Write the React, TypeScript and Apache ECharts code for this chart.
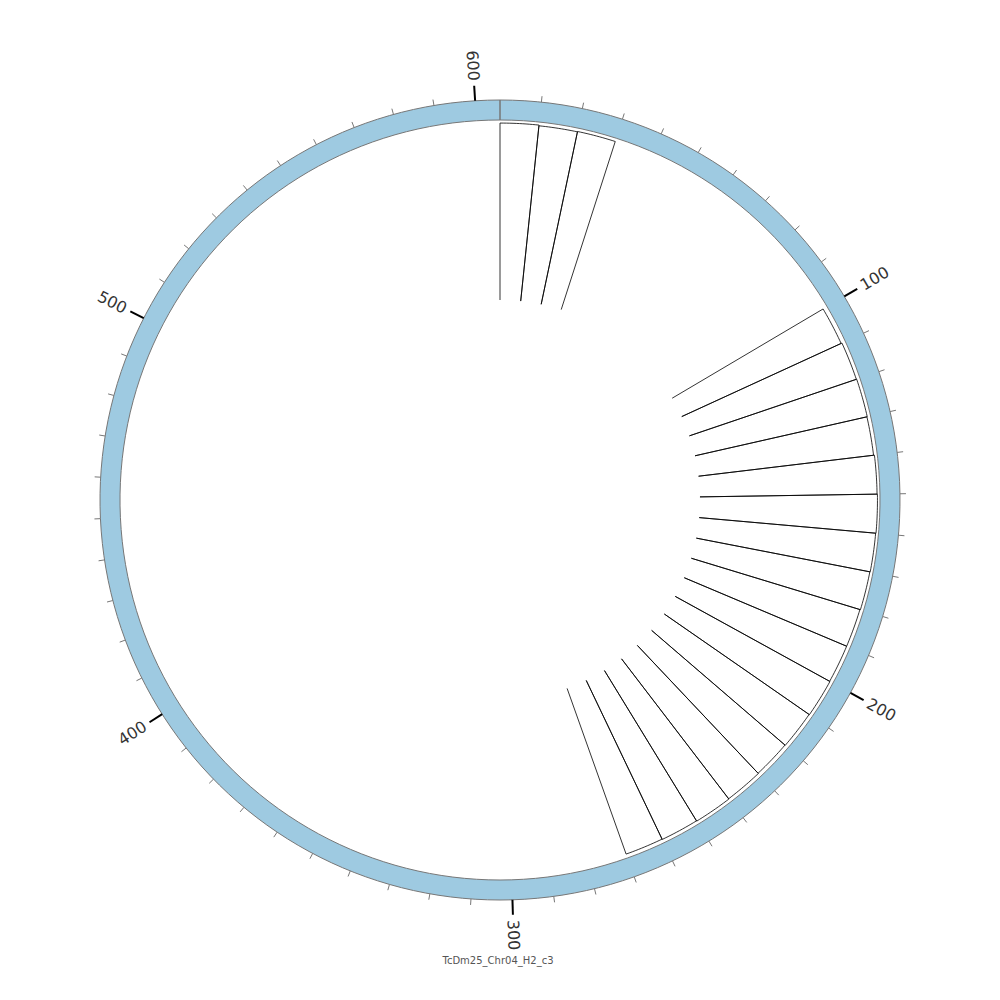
import React, { useEffect, useRef } from 'react';
import * as echarts from 'echarts';

// ---- data ----
const chrName = 'TcDm25_Chr04_H2_c3';
const chrLength = 606;
const minorTickStep = 10;
const majorTicks = [100, 200, 300, 400, 500, 600];
const majorTickLabels = ['100', '200', '300', '400', '500', '600'];
const binSize = 10;
const binStarts = [0, 10, 20, 100, 110, 120, 130, 140, 150, 160, 170, 180, 190, 200, 210, 220, 230, 240, 250, 260];
const binValues = [0.994, 0.99, 0.992, 0.985, 0.99, 0.992, 0.99, 0.995, 0.997, 0.995, 0.993, 0.99, 0.99, 0.992, 0.99, 0.988, 0.99, 0.992, 0.99, 0.988];

const minorTicks: number[] = [];
for (let t = minorTickStep; t <= chrLength; t += minorTickStep) {
  if (majorTicks.indexOf(t) < 0) minorTicks.push(t);
}

export default function App() {
  const ref = useRef<HTMLDivElement>(null);
  useEffect(() => {
    if (!ref.current) return;
    const chart = echarts.init(ref.current, undefined, { renderer: 'svg' });

    const hiddenAngle = (idx: number) => ({
      polarIndex: idx,
      type: 'value',
      min: 0,
      max: chrLength,
      startAngle: 90,
      clockwise: true,
      axisLine: { show: false },
      axisTick: { show: false },
      axisLabel: { show: false },
      splitLine: { show: false },
    });
    const hiddenRadius = (idx: number) => ({
      polarIndex: idx,
      type: 'value',
      min: 0,
      max: 1,
      axisLine: { show: false },
      axisTick: { show: false },
      axisLabel: { show: false },
      splitLine: { show: false },
    });

    const histData = binStarts.map((s, i) => [binValues[i], s, s + binSize]);

    const option: any = {
      animation: false,
      polar: [
        { center: ['50%', '50%'], radius: [200, 378] },
        { center: ['50%', '50%'], radius: [380, 400] },
      ],
      angleAxis: [hiddenAngle(0), hiddenAngle(1)],
      radiusAxis: [hiddenRadius(0), hiddenRadius(1)],
      graphic: [
        {
          type: 'text',
          x: 498,
          y: 960,
          style: {
            text: chrName,
            align: 'center',
            verticalAlign: 'middle',
            fontSize: 10,
            fontFamily: 'DejaVu Sans',
            fill: '#555',
          },
        },
      ],
      series: [
        {
          type: 'custom',
          coordinateSystem: 'polar',
          polarIndex: 0,
          clip: false,
          encode: { radius: 0, angle: 1 },
          data: histData,
          renderItem: (params: any, api: any) => {
            const v = api.value(0);
            const s = api.value(1);
            const e = api.value(2);
            const pts: number[][] = [];
            pts.push(api.coord([0, s]));
            const n = 12;
            for (let k = 0; k <= n; k++) {
              pts.push(api.coord([v, s + ((e - s) * k) / n]));
            }
            pts.push(api.coord([0, e]));
            return {
              type: 'polyline',
              shape: { points: pts },
              style: { stroke: '#000', lineWidth: 0.8, fill: null },
            };
          },
        },
        {
          type: 'custom',
          coordinateSystem: 'polar',
          polarIndex: 1,
          clip: false,
          encode: { radius: 0, angle: 1 },
          data: [[1, chrLength]],
          renderItem: (params: any, api: any) => {
            const L = api.value(1);
            const pts: number[][] = [];
            const step = 3;
            for (let a = 0; a < L; a += step) pts.push(api.coord([1, a]));
            pts.push(api.coord([1, L]));
            pts.push(api.coord([0, L]));
            for (let a = Math.floor(L / step) * step; a > 0; a -= step) pts.push(api.coord([0, a]));
            pts.push(api.coord([0, 0]));
            return {
              type: 'polygon',
              shape: { points: pts },
              style: { fill: '#9ECAE1', stroke: '#777', lineWidth: 1 },
            };
          },
        },
        {
          type: 'custom',
          coordinateSystem: 'polar',
          polarIndex: 1,
          clip: false,
          encode: { radius: 0, angle: 1 },
          data: minorTicks.map((t) => [1, t]),
          renderItem: (params: any, api: any) => {
            const cx = params.coordSys.cx;
            const cy = params.coordSys.cy;
            const p = api.coord([1, api.value(1)]);
            const dx = p[0] - cx;
            const dy = p[1] - cy;
            const r = Math.sqrt(dx * dx + dy * dy);
            const ux = dx / r;
            const uy = dy / r;
            return {
              type: 'line',
              shape: { x1: p[0], y1: p[1], x2: cx + ux * (r + 6), y2: cy + uy * (r + 6) },
              style: { stroke: '#777', lineWidth: 1 },
            };
          },
        },
        {
          type: 'custom',
          coordinateSystem: 'polar',
          polarIndex: 1,
          clip: false,
          encode: { radius: 0, angle: 1 },
          data: majorTicks.map((t) => [1, t]),
          renderItem: (params: any, api: any) => {
            const cx = params.coordSys.cx;
            const cy = params.coordSys.cy;
            const p = api.coord([1, api.value(1)]);
            const dx = p[0] - cx;
            const dy = p[1] - cy;
            const r = Math.sqrt(dx * dx + dy * dy);
            const ux = dx / r;
            const uy = dy / r;
            let rot = Math.atan2(-uy, ux);
            let align = 'left';
            if (ux < 0) {
              rot += Math.PI;
              align = 'right';
            }
            return {
              type: 'group',
              children: [
                {
                  type: 'line',
                  shape: { x1: p[0], y1: p[1], x2: cx + ux * (r + 15), y2: cy + uy * (r + 15) },
                  style: { stroke: '#000', lineWidth: 2 },
                },
                {
                  type: 'text',
                  x: cx + ux * (r + 20),
                  y: cy + uy * (r + 20),
                  rotation: rot,
                  style: {
                    text: majorTickLabels[params.dataIndex],
                    align,
                    verticalAlign: 'middle',
                    fontSize: 16,
                    fontFamily: 'DejaVu Sans',
                    fill: '#333',
                  },
                },
              ],
            };
          },
        },
      ],
    };
    chart.setOption(option);
    return () => chart.dispose();
  }, []);
  return (
    <div
      ref={ref}
      style={{ position: 'fixed', left: 0, top: 0, width: 1000, height: 1000, background: '#fff' }}
    />
  );
}
